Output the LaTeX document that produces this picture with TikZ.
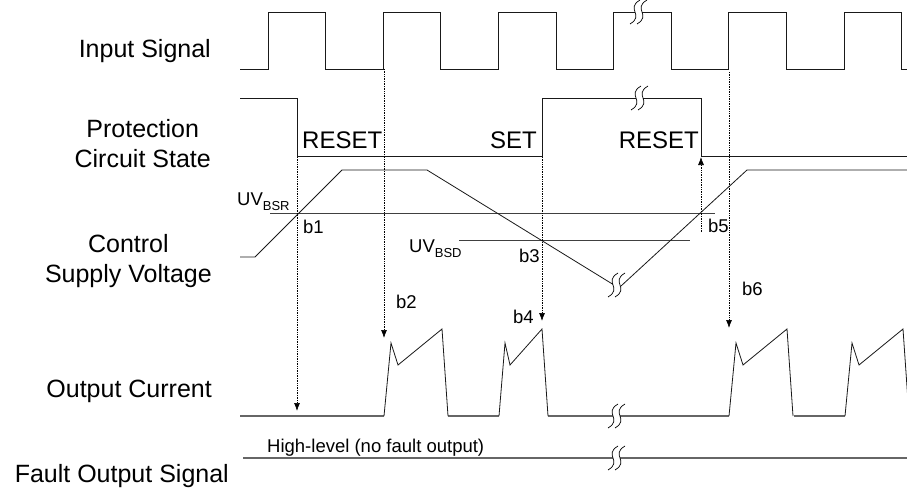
\documentclass[tikz,border=0pt]{standalone}
\usepackage{fontspec}
\setmainfont{Liberation Sans}
\usetikzlibrary{arrows.meta}

\newcommand{\brkmark}[2]{%
  \fill[white] (#1,#2-1.6) rectangle (#1+7,#2+1.6);
  \draw[brkline] (#1+5,#2-12) .. controls (#1-10,#2-3) and (#1+10,#2+3) .. (#1-5,#2+12);
  \draw[brkline] (#1+12,#2-12) .. controls (#1-3,#2-3) and (#1+17,#2+3) .. (#1+2,#2+12);
}
\newcommand{\uvsub}[1]{UV\raisebox{-5pt}{\fontsize{13}{13}\selectfont #1}}

\tikzset{
  wave/.style={line width=0.8pt, black!90},
  baseline/.style={line width=1.6pt, black!60},
  level/.style={line width=0.6pt, black!75},
  brkline/.style={line width=0.7pt, black},
  dotarrow/.style={densely dotted, line width=0.7pt, -{Latex[length=8pt,width=6pt]}},
  biglbl/.style={font=\fontsize{25}{30}\selectfont, inner sep=0pt, align=center},
  statelbl/.style={font=\fontsize{24}{28}\selectfont, inner sep=0pt},
  lbl/.style={font=\fontsize{18.5}{22}\selectfont, inner sep=0pt}
}

\begin{document}
\begin{tikzpicture}[x=1pt,y=-1pt]
\useasboundingbox (0,0) rectangle (907,487);
\clip (0,0) rectangle (907,487);

\node[biglbl, anchor=base east] (insig) at (211,57) {Input Signal};
\node[biglbl, anchor=east] (prot) at (211,144) {Protection\\Circuit State};
\node[biglbl, anchor=east] (ctrl) at (212,261) {Control\\Supply Voltage};
\node[biglbl, anchor=base east] (outcur) at (212,397) {Output Current};
\node[biglbl, anchor=base east] (fault) at (229,482) {Fault Output Signal};

% input signal
\draw[wave] (240,69) foreach \k in {0,2,...,10} { -- ({268+57.6*\k},69) -- ++(0,-57) -- ++(57.6,0) -- ++(0,57) } -- (910,69);
\brkmark{635}{12}

% protection circuit state
\draw[wave] (240,98) -- (297,98) -- (297,156) -- (542,156) -- (542,98) -- (701,98) -- (701,156) -- (910,156);
\brkmark{636}{98}
\node[statelbl, anchor=base west] (reset1) at (302,148) {RESET};
\node[statelbl, anchor=base east] (set) at (537,148) {SET};
\node[statelbl, anchor=base east] (reset2) at (699,148) {RESET};

% control supply voltage
\draw[level] (270,213) -- (715,213);
\draw[level] (459,240) -- (690,240);
\draw[wave] (240,257) -- (255,257) -- (342,170) -- (427,170) -- (614,285);
\draw[wave] (621,286) -- (747,170) -- (910,170);
\brkmark{613}{285}
\node[lbl, anchor=base west] (uvbsr) at (237,205) {\uvsub{BSR}};
\node[lbl, anchor=base west] (uvbsd) at (409,252) {\uvsub{BSD}};

% output current
\draw[baseline] (240,416) -- (384,416) (448,416) -- (499,416) (548,416) -- (729,416) (794,416) -- (845,416);
\foreach \s in {384,729,845}
  \draw[wave] (\s,416) -- ++(7,-73) -- ++(7,22) -- ++(44,-36) -- ++(6,87);
\draw[wave] (499,416) -- (505,343) -- (510,365) -- (542,329) -- (548,416);
\brkmark{613}{416}

% fault output
\draw[baseline] (243,458) -- (910,458);
\brkmark{613}{458}
\node[lbl, anchor=base west] (hilev) at (267,452) {High-level (no fault output)};

% timing markers
\coordinate (t1a) at (297,157); \coordinate (t1b) at (297,411);
\coordinate (t2a) at (384,69);  \coordinate (t2b) at (384,338);
\coordinate (t3a) at (542,157); \coordinate (t3b) at (542,321);
\coordinate (t4a) at (701,232); \coordinate (t4b) at (701,157);
\coordinate (t5a) at (729,72);  \coordinate (t5b) at (729,328);
\draw[dotarrow] (t1a) -- (t1b);
\draw[dotarrow] (t2a) -- (t2b);
\draw[dotarrow] (t3a) -- (t3b);
\draw[dotarrow] (t4a) -- (t4b);
\draw[dotarrow] (t5a) -- (t5b);

\node[lbl, anchor=base west] (b1) at (303,233) {b1};
\node[lbl, anchor=base west] (b2) at (396,308) {b2};
\node[lbl, anchor=base west] (b3) at (519,262) {b3};
\node[lbl, anchor=base west] (b4) at (513,323) {b4};
\node[lbl, anchor=base west] (b5) at (708,232) {b5};
\node[lbl, anchor=base west] (b6) at (742,295) {b6};
\end{tikzpicture}
\end{document}
